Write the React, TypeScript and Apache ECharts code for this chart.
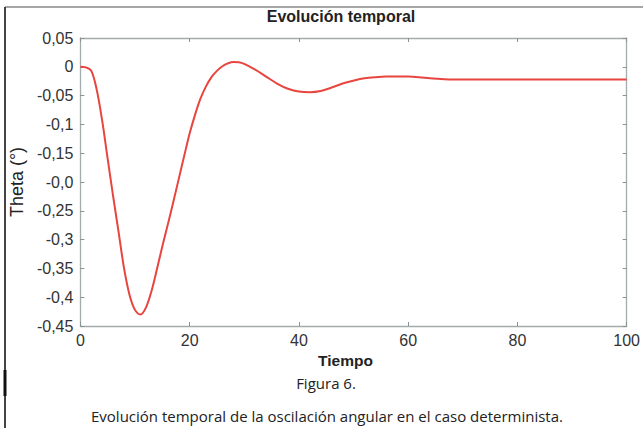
import React, { useEffect, useRef } from "react";
import * as echarts from "echarts";

const timeValues = [0, 1, 2, 3, 4, 5, 6, 7, 8, 9, 10, 11, 12, 13, 14, 15, 16, 17, 18, 19, 20, 21, 22, 23, 24, 25, 26, 27, 28, 29, 30, 32, 34, 36, 38, 40, 42, 44, 46, 48, 50, 52, 54, 56, 58, 60, 62, 64, 66, 68, 70, 75, 80, 90, 100];
const thetaValues = [0, -0.001, -0.007, -0.04, -0.094, -0.16, -0.225, -0.287, -0.35, -0.396, -0.422, -0.43, -0.418, -0.39, -0.352, -0.312, -0.274, -0.235, -0.195, -0.155, -0.116, -0.083, -0.055, -0.034, -0.018, -0.007, 0.001, 0.006, 0.0085, 0.008, 0.005, -0.005, -0.017, -0.029, -0.038, -0.043, -0.044, -0.042, -0.036, -0.029, -0.024, -0.02, -0.018, -0.017, -0.017, -0.017, -0.018, -0.02, -0.021, -0.022, -0.022, -0.022, -0.022, -0.022, -0.022];
const yTickLabels = ["-0,45", "-0,4", "-0,35", "-0,3", "-0,25", "-0,0", "-0,15", "-0,1", "-0,05", "0", "0,05"];
const xTickLabels = ["0", "20", "40", "60", "80", "100"];

const titleText = "Evolución temporal";
const xName = "Tiempo";
const yName = "Theta (°)";
const figLabel = "Figura 6.";
const caption = "Evolución temporal de la oscilación angular en el caso determinista.";

export default function App() {
  const ref = useRef<HTMLDivElement>(null);
  useEffect(() => {
    if (!ref.current) return;
    const chart = echarts.init(ref.current, null, { renderer: "svg" });
    const data = timeValues.map((t, i) => [t, thetaValues[i]]);
    const sans = "Liberation Sans, Arial, sans-serif";
    const axisFont = { fontFamily: sans, fontSize: 16, color: "#333" };
    const boxLine = { show: true, onZero: false, lineStyle: { color: "#a3adad", width: 1.3 } };
    const tickStyle = { show: true, inside: true, length: 4, lineStyle: { color: "#8a9393" } };
    chart.setOption({
      animation: false,
      backgroundColor: "#fff",
      grid: { left: 80, right: 12, top: 38, bottom: 102 },
      xAxis: [
        {
          type: "value",
          min: 0,
          max: 100,
          interval: 20,
          position: "bottom",
          axisLine: boxLine,
          axisTick: tickStyle,
          splitLine: { show: false },
          axisLabel: {
            ...axisFont,
            margin: 6,
            formatter: (v: number) => xTickLabels[Math.round(v / 20)] ?? "",
          },
          name: xName,
          nameLocation: "middle",
          nameGap: 24,
          nameTextStyle: { fontFamily: sans, fontSize: 15.5, fontWeight: "bold", color: "#222", padding: [0, 16, 0, 0] },
        },
        {
          type: "value",
          min: 0,
          max: 100,
          interval: 20,
          position: "top",
          axisLine: boxLine,
          axisTick: tickStyle,
          axisLabel: { show: false },
          splitLine: { show: false },
        },
      ],
      yAxis: [
        {
          type: "value",
          min: -0.45,
          max: 0.05,
          interval: 0.05,
          position: "left",
          axisLine: boxLine,
          axisTick: tickStyle,
          splitLine: { show: false },
          axisLabel: {
            ...axisFont,
            margin: 7,
            formatter: (v: number) => yTickLabels[Math.round((v + 0.45) / 0.05)] ?? "",
          },
          name: yName,
          nameLocation: "middle",
          nameGap: 51,
          nameRotate: 90,
          nameTextStyle: { fontFamily: sans, fontSize: 18, color: "#222" },
        },
        {
          type: "value",
          min: -0.45,
          max: 0.05,
          interval: 0.05,
          position: "right",
          axisLine: boxLine,
          axisTick: tickStyle,
          axisLabel: { show: false },
          splitLine: { show: false },
        },
      ],
      series: [
        {
          type: "line",
          data,
          smooth: 0.35,
          showSymbol: false,
          lineStyle: { color: "#e8453e", width: 2 },
        },
      ],
      graphic: [
        { type: "line", shape: { x1: 5, y1: 7, x2: 643, y2: 7 }, style: { stroke: "#888", lineWidth: 1.5 } },
        { type: "line", shape: { x1: 5, y1: 7, x2: 5, y2: 428 }, style: { stroke: "#444", lineWidth: 2 } },
        { type: "line", shape: { x1: 5, y1: 370, x2: 5, y2: 396 }, style: { stroke: "#111", lineWidth: 3 } },
        {
          type: "text",
          x: 341,
          y: 16,
          style: { text: titleText, fontFamily: sans, fontSize: 16, fontWeight: "bold", fill: "#222", align: "center", verticalAlign: "middle" },
        },
        {
          type: "text",
          x: 326,
          y: 383,
          style: { text: figLabel, fontFamily: "Open Sans, Noto Sans, sans-serif", fontSize: 15, fill: "#222", align: "center", verticalAlign: "middle" },
        },
        {
          type: "text",
          x: 327,
          y: 416,
          style: { text: caption, fontFamily: "Open Sans, Noto Sans, sans-serif", fontSize: 15, fill: "#222", align: "center", verticalAlign: "middle" },
        },
      ],
    });
    return () => chart.dispose();
  }, []);
  return <div ref={ref} style={{ position: "absolute", left: 0, top: 0, width: 643, height: 428 }} />;
}
